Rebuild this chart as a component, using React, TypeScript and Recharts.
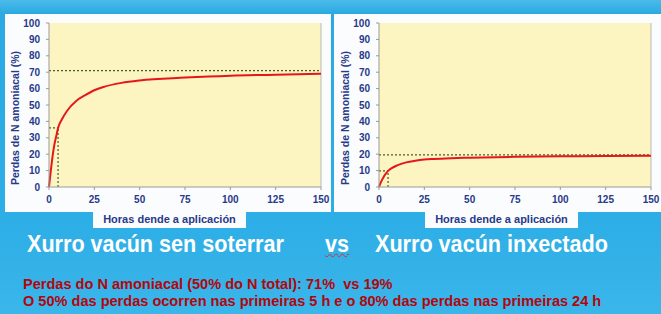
import { LineChart, Line, XAxis, YAxis, CartesianGrid, ReferenceLine, Label } from "recharts";

// hours after application
const hours = [0, 1, 2, 3, 4, 5, 7, 10, 15, 20, 25, 30, 40, 50, 75, 100, 125, 150];
// losses of ammoniacal N (%), surface slurry vs injected slurry
const surfaceLoss = [0, 10, 19, 26, 31, 36, 41, 46.5, 52.5, 56, 59, 61, 63.5, 65, 66.7, 67.9, 68.5, 69];
const injectedLoss = [0, 2.8, 5, 7, 8.5, 9.8, 11.5, 13.2, 15, 16, 16.7, 17.1, 17.6, 17.9, 18.4, 18.7, 18.9, 19.1];

const yTicks = [0, 10, 20, 30, 40, 50, 60, 70, 80, 90, 100];
const xTicks = [0, 25, 50, 75, 100, 125, 150];

const totalSurface = 71;
const totalInjected = 19.6;
const firstHours = 5;
const surfaceAt5 = 36;
const injectedAt5 = 9.8;

const navy = "#27398a";
const tickStyle = { fill: navy, fontSize: 10, fontWeight: 700, fontFamily: "Liberation Sans, Arial, sans-serif" };
const dotted = "#4b5a2c";

function LossChart({ values, total, at5 }: { values: number[]; total: number; at5: number }) {
  const data = hours.map((h, i) => ({ h, v: values[i] }));
  return (
    <LineChart width={332} height={230} data={data} margin={{ top: 23, right: 11, bottom: 0, left: 0 }}>
      <CartesianGrid fill="#fcf5c1" horizontal={false} vertical={false} />
      <XAxis
        dataKey="h"
        type="number"
        domain={[0, 150]}
        ticks={xTicks}
        interval={0}
        height={43}
        tickSize={3}
        tickMargin={6}
        stroke="#9a9a9a"
        tick={tickStyle}
      />
      <YAxis
        type="number"
        domain={[0, 100]}
        ticks={yTicks}
        interval={0}
        width={49}
        tickSize={3}
        tickMargin={6}
        stroke="#9a9a9a"
        tick={tickStyle}
      >
        <Label
          content={() => (
            <text
              x={15}
              y={118}
              transform="rotate(-90, 15, 118)"
              textAnchor="middle"
              dominantBaseline="central"
              fill={navy}
              fontSize={10.5}
              fontWeight={700}
              fontFamily="Liberation Sans, Arial, sans-serif"
            >
              Perdas de N amoniacal (%)
            </text>
          )}
        />
      </YAxis>
      <ReferenceLine x={150} stroke="#b8b8b8" />
      <ReferenceLine y={total} stroke={dotted} strokeDasharray="2 2" strokeWidth={1.2} />
      <ReferenceLine segment={[{ x: 0, y: at5 }, { x: firstHours, y: at5 }]} stroke={dotted} strokeDasharray="2 2" strokeWidth={1.2} />
      <ReferenceLine segment={[{ x: firstHours, y: 0 }, { x: firstHours, y: at5 }]} stroke={dotted} strokeDasharray="2 2" strokeWidth={1.2} />
      <Line type="monotone" dataKey="v" stroke="#e5161c" strokeWidth={2} dot={false} isAnimationActive={false} />
    </LineChart>
  );
}

const sans = "'Liberation Sans', Arial, sans-serif";

export default function App() {
  const box = (left: number): React.CSSProperties => ({
    position: "absolute",
    left,
    top: 211,
    width: 153,
    height: 17,
    background: "#fbfcfd",
    color: navy,
    fontFamily: sans,
    fontWeight: 700,
    fontSize: 11,
    lineHeight: "17px",
    textAlign: "center",
  });
  const title = (left: number, sx: number): React.CSSProperties => ({
    position: "absolute",
    left,
    top: 0,
    transform: `scaleX(${sx})`,
    transformOrigin: "left top",
  });
  const redLine: React.CSSProperties = { transform: "scaleX(0.97)", transformOrigin: "left top" };
  return (
    <div
      style={{
        position: "fixed",
        left: 0,
        top: 0,
        width: 661,
        height: 314,
        overflow: "hidden",
        background: "linear-gradient(180deg, #4bbbe9 0px, #2aa9e2 14px, #2daee6 220px, #3ab6ea 314px)",
      }}
    >
      <div style={{ position: "absolute", left: 5, top: 14, width: 326, height: 198, background: "#fbfcfd" }} />
      <div style={{ position: "absolute", left: 334, top: 14, width: 327, height: 198, background: "#fbfcfd" }} />
      <div style={{ position: "absolute", left: 0, top: 0 }}>
        <LossChart values={surfaceLoss} total={totalSurface} at5={surfaceAt5} />
      </div>
      <div style={{ position: "absolute", left: 330, top: 0 }}>
        <LossChart values={injectedLoss} total={totalInjected} at5={injectedAt5} />
      </div>
      <div style={box(93)}>Horas dende a aplicación</div>
      <div style={box(425)}>Horas dende a aplicación</div>
      <div
        style={{
          position: "absolute",
          left: 0,
          top: 230,
          width: 661,
          fontFamily: sans,
          fontWeight: 700,
          fontSize: 24,
          color: "#ffffff",
          whiteSpace: "nowrap",
        }}
      >
        <span style={title(27, 0.9)}>Xurro vacún sen soterrar</span>
        <span style={{ ...title(325, 0.9), textDecoration: "underline wavy #d0303a", textDecorationThickness: 1 }}>vs</span>
        <span style={title(375, 0.9)}>Xurro vacún inxectado</span>
      </div>
      <div
        style={{
          position: "absolute",
          left: 23,
          top: 275,
          fontFamily: sans,
          fontWeight: 700,
          fontSize: 15,
          lineHeight: "17px",
          color: "#b3060c",
          whiteSpace: "nowrap",
        }}
      >
        <div style={redLine}>Perdas do N amoniacal (50% do N total): 71%&nbsp; vs 19%</div>
        <div style={redLine}>O 50% das perdas ocorren nas primeiras 5 h e o 80% das perdas nas primeiras 24 h</div>
      </div>
    </div>
  );
}
